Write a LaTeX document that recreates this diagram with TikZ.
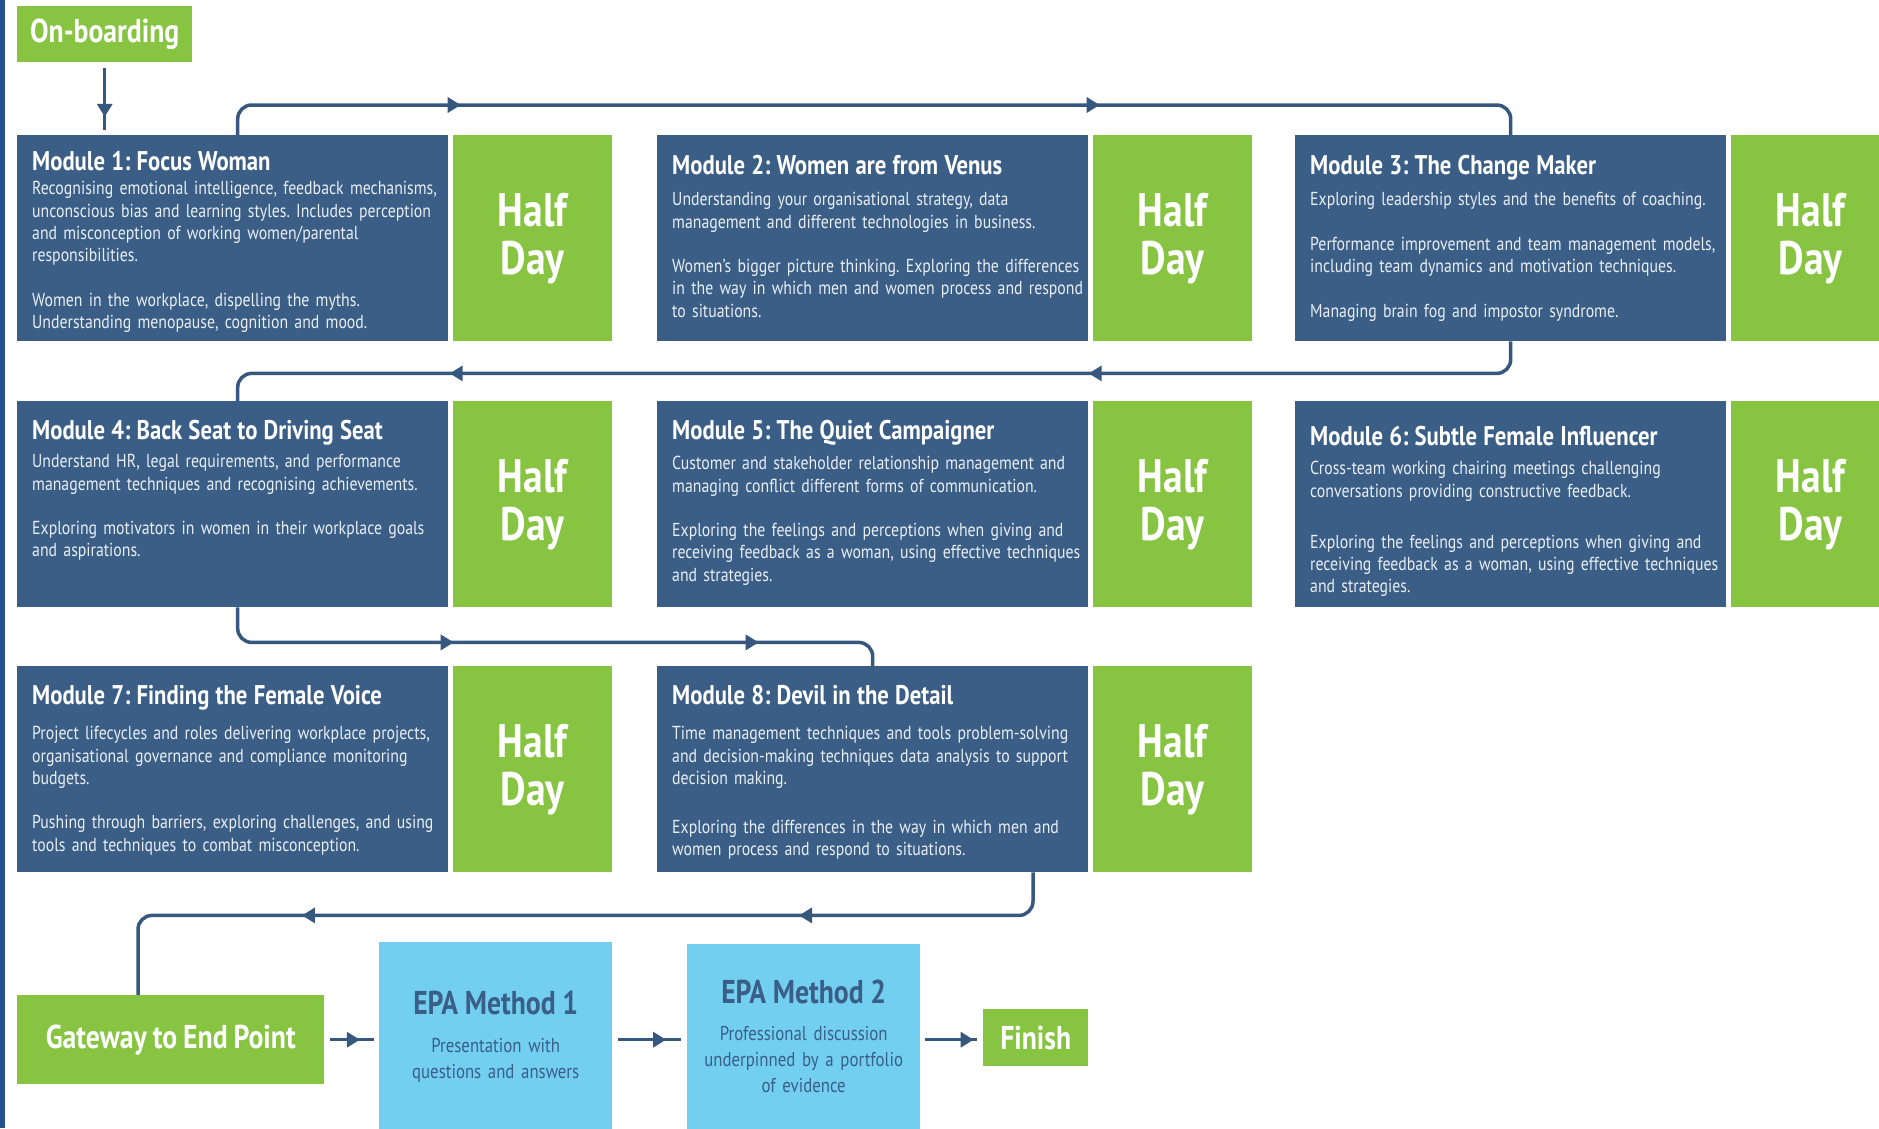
\documentclass[tikz,border=0pt]{standalone}
\usepackage{fontspec}
\setmainfont{PT Sans}[FakeStretch=0.84,WordSpace=0.85]
\usetikzlibrary{arrows.meta,decorations.markings,calc}
\definecolor{modblue}{HTML}{3A5E86}
\definecolor{hdgreen}{HTML}{86C441}
\definecolor{epablue}{HTML}{72CFF0}
\definecolor{flowblue}{HTML}{36587F}
\definecolor{stripblue}{HTML}{26528F}
\definecolor{bodywhite}{HTML}{E9EEF3}
\frenchspacing
\newcommand{\modtitle}[1]{{\color{white}\bfseries\fontsize{27}{28}\selectfont #1}}
\newcommand{\epatitle}[1]{{\bfseries\fontsize{33}{35}\selectfont #1}}
\begin{document}
\begin{tikzpicture}[x=1pt,y=-1pt,
  modbox/.style={fill=modblue,anchor=north west,inner sep=0pt,minimum width=431pt,minimum height=206pt},
  halfday/.style={fill=hdgreen,anchor=north west,inner sep=0pt,minimum width=159pt,minimum height=206pt,
    text=white,align=center,font=\bfseries\fontsize{47}{48}\selectfont},
  modtext/.style={anchor=north west,inner sep=0pt,text=bodywhite,text width=425pt,align=left,
    font=\fontsize{18.8}{22.3}\selectfont},
  greenbox/.style={fill=hdgreen,anchor=north west,inner sep=0pt,text=white,font=\bfseries\fontsize{33}{35}\selectfont},
  epabox/.style={fill=epablue,anchor=north west,inner sep=0pt,minimum width=233pt,minimum height=210pt},
  epatext/.style={anchor=north,inner sep=0pt,text=modblue,text width=228pt,align=center,
    font=\fontsize{20}{26}\selectfont},
  flow/.style={draw=flowblue,line width=3.5pt,rounded corners=14pt},
  midarrow/.style={postaction={decorate,decoration={markings,
    mark=at position #1 with {\arrow{Triangle[length=13pt,width=15pt]}}}}}]
\useasboundingbox (0,0) rectangle (1879,1128);
\fill[stripblue] (0,0) rectangle (5,1128);

\node[greenbox,minimum width=175pt,minimum height=56pt] (ob) at (17,6) {On-boarding};

\node[modbox] (m1) at (17,135) {};
\node[modbox] (m2) at (657,135) {};
\node[modbox] (m3) at (1295,135) {};
\node[modbox] (m4) at (17,401) {};
\node[modbox] (m5) at (657,401) {};
\node[modbox] (m6) at (1295,401) {};
\node[modbox] (m7) at (17,666) {};
\node[modbox] (m8) at (657,666) {};
\foreach \x/\y/\n in {453/135/1,1093/135/2,1731/135/3,453/401/4,1093/401/5,1731/401/6,453/666/7,1093/666/8}
  \node[halfday] (h\n) at (\x,\y) {Half\\Day};

\node[modtext] (t1) at ($(m1.north west)+(15,16)$) {\modtitle{Module 1: Focus Woman}\\[2pt]
Recognising emotional intelligence, feedback mechanisms,\\
unconscious bias and learning styles. Includes perception\\
and misconception of working women/parental\\
responsibilities.\\[22.3pt]
Women in the workplace, dispelling the myths.\\
Understanding menopause, cognition and mood.};
\node[modtext] (t2) at ($(m2.north west)+(15,20)$) {\modtitle{Module 2: Women are from Venus}\\[9pt]
Understanding your organisational strategy, data\\
management and different technologies in business.\\[22.3pt]
Women’s bigger picture thinking. Exploring the differences\\
in the way in which men and women process and respond\\
to situations.};
\node[modtext] (t3) at ($(m3.north west)+(15,20)$) {\modtitle{Module 3: The Change Maker}\\[9pt]
Exploring leadership styles and the benefits of coaching.\\[22.3pt]
Performance improvement and team management models,\\
including team dynamics and motivation techniques.\\[22.3pt]
Managing brain fog and impostor syndrome.};
\node[modtext] (t4) at ($(m4.north west)+(15,19)$) {\modtitle{Module 4: Back Seat to Driving Seat}\\[6pt]
Understand HR, legal requirements, and performance\\
management techniques and recognising achievements.\\[22.3pt]
Exploring motivators in women in their workplace goals\\
and aspirations.};
\node[modtext] (t5) at ($(m5.north west)+(15,19)$) {\modtitle{Module 5: The Quiet Campaigner}\\[8pt]
Customer and stakeholder relationship management and\\
managing conflict different forms of communication.\\[22.3pt]
Exploring the feelings and perceptions when giving and\\
receiving feedback as a woman, using effective techniques\\
and strategies.};
\node[modtext] (t6) at ($(m6.north west)+(15,25)$) {\modtitle{Module 6: Subtle Female Influencer}\\[7pt]
Cross-team working chairing meetings challenging\\
conversations providing constructive feedback.\\[29pt]
Exploring the feelings and perceptions when giving and\\
receiving feedback as a woman, using effective techniques\\
and strategies.};
\node[modtext] (t7) at ($(m7.north west)+(15,19)$) {\modtitle{Module 7: Finding the Female Voice}\\[13pt]
Project lifecycles and roles delivering workplace projects,\\
organisational governance and compliance monitoring\\
budgets.\\[22.3pt]
Pushing through barriers, exploring challenges, and using\\
tools and techniques to combat misconception.};
\node[modtext] (t8) at ($(m8.north west)+(15,19)$) {\modtitle{Module 8: Devil in the Detail}\\[13pt]
Time management techniques and tools problem-solving\\
and decision-making techniques data analysis to support\\
decision making.\\[27pt]
Exploring the differences in the way in which men and\\
women process and respond to situations.};

\node[greenbox,minimum width=307pt,minimum height=89pt] (gw) at (17,995) {Gateway to End Point};
\node[epabox] (ep1) at (379,942) {};
\node[epabox] (ep2) at (687,944) {};
\node[greenbox,minimum width=105pt,minimum height=57pt] (fin) at (983,1009) {Finish};
\node[epatext] (e1) at ($(ep1.north)+(0,49)$) {\epatitle{EPA Method 1}\\[12pt]
Presentation with\\questions and answers};
\node[epatext] (e2) at ($(ep2.north)+(0,36)$) {\epatitle{EPA Method 2}\\[11pt]
Professional discussion\\underpinned by a portfolio\\of evidence};

\coordinate (m8out) at ($(m8.south west)+(376,0)$);
\coordinate (gwin) at ($(gw.north west)+(121,0)$);

\draw[flow,midarrow=0.75,shorten <=6pt,shorten >=5pt] (ob.south) -- (ob.south |- m1.north);
\draw[flow,midarrow=247pt,midarrow=886pt] ([xshift=5pt]m1.north) -- ++(0,-30) -| (m3.north);
\draw[flow,midarrow=448pt,midarrow=1087pt] (m3.south) -- ++(0,32) -| ([xshift=5pt]m4.north);
\draw[flow,midarrow=245pt,midarrow=550pt] ([xshift=5pt]m4.south) -- ++(0,35) -| (m8.north);
\draw[flow,midarrow=271pt,midarrow=768pt] (m8out) -- ++(0,43) -| (gwin);
\draw[flow,midarrow=0.65,shorten <=6pt,shorten >=5pt] (gw.east) -- (gw.east -| ep1.west);
\draw[flow,midarrow=0.72,shorten <=6pt,shorten >=6pt] (gw.east -| ep1.east) -- (gw.east -| ep2.west);
\draw[flow,midarrow=0.85,shorten <=5pt,shorten >=6pt] (gw.east -| ep2.east) -- (gw.east -| fin.west);
\end{tikzpicture}
\end{document}
